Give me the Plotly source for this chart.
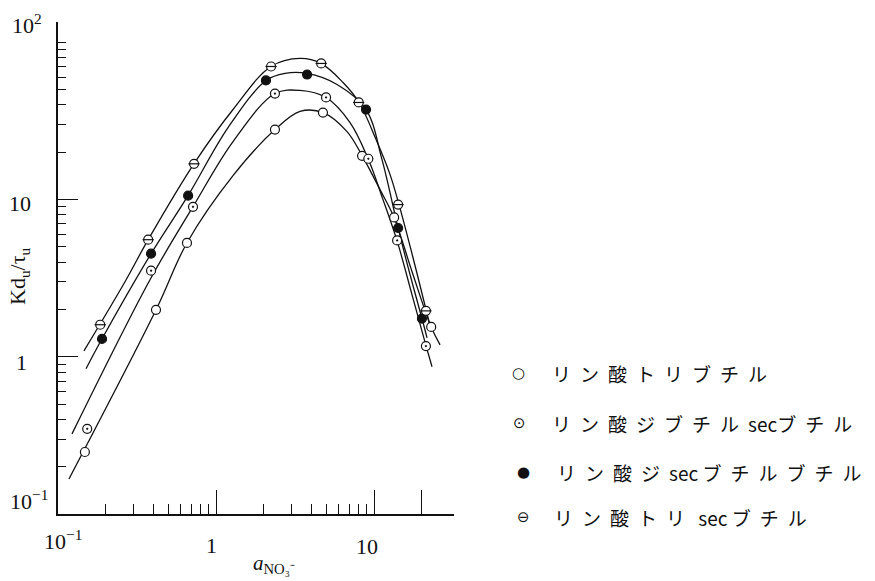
import plotly.graph_objects as go

# ---------------- data ----------------
# ○ リン酸トリブチル
tbp_x = [0.148, 0.417, 0.655, 2.36, 4.75, 8.4, 13.4, 23.0]
tbp_y = [0.248, 1.99, 5.3, 27.9, 35.8, 19.0, 7.7, 1.55]
tbp_curve_x = [0.1173, 0.4173, 0.6555, 1.281, 2.363, 3.401, 4.756, 6.748, 8.40, 10.91, 13.39, 17.40, 22.95, 26.17]
tbp_curve_y = [0.1671, 1.993, 5.32, 14.22, 27.9, 36.4, 35.8, 27.1, 19.07, 11.58, 7.68, 3.48, 1.553, 1.192]

# ⊙ リン酸ジブチルsecブチル
dbsb_x = [0.153, 0.388, 0.715, 2.36, 4.97, 9.2, 14.0, 21.3]
dbsb_y = [0.348, 3.53, 9.0, 47.3, 44.7, 18.2, 5.5, 1.17]
dbsb_curve_x = [0.1226, 0.3822, 0.715, 1.281, 2.363, 3.401, 4.969, 7.05, 9.16, 11.40, 13.98, 17.40, 21.33, 23.28]
dbsb_curve_y = [0.3233, 3.093, 9.02, 23.4, 47.3, 49.5, 44.6, 30.9, 18.24, 10.0, 5.48, 2.48, 1.175, 0.864]

# ● リン酸ジsecブチルブチル
dsbb_x = [0.19, 0.388, 0.666, 2.07, 3.77, 8.9, 14.2, 20.1]
dsbb_y = [1.30, 4.53, 10.6, 57.3, 62.5, 37.4, 6.6, 1.75]
dsbb_curve_x = [0.1504, 0.190, 0.388, 0.665, 1.191, 2.073, 2.734, 3.766, 5.833, 8.90, 11.23, 14.19, 16.90, 20.13, 21.64]
dsbb_curve_y = [0.839, 1.302, 4.53, 10.6, 28.7, 57.3, 63.5, 63.5, 54.0, 37.4, 17.98, 6.63, 3.33, 1.746, 1.321]

# ⊖ リン酸トリsecブチル
tsbp_x = [0.185, 0.372, 0.726, 2.23, 4.63, 8.0, 14.2, 21.3]
tsbp_y = [1.60, 5.56, 16.9, 70.3, 73.5, 41.5, 9.3, 1.96]
tsbp_curve_x = [0.146, 0.2655, 0.372, 0.726, 1.281, 2.229, 3.401, 4.618, 6.366, 8.04, 10.30, 12.63, 14.39, 17.65, 21.33, 22.95]
tsbp_curve_y = [1.092, 3.005, 5.56, 16.96, 37.43, 70.3, 79.1, 73.5, 55.6, 41.5, 24.1, 14.43, 9.29, 4.27, 1.993, 1.486]

legend_names = ["リン酸トリブチル", "リン酸ジブチルsecブチル", "リン酸ジsecブチルブチル", "リン酸トリ secブチル"]

x_major_ticks = [1, 10, 20]
x_minor_ticks = [0.2, 0.3, 0.4, 0.5, 0.6, 0.7, 0.8, 0.9, 2, 3, 4, 5, 6, 7, 8, 9]
y_major_ticks = [1, 10]
y_minor_ticks = [0.2, 0.3, 0.4, 0.5, 0.6, 0.7, 0.8, 0.9, 2, 3, 4, 5, 6, 7, 8, 9,
                 20, 30, 40, 50, 60, 70, 80, 90, 100]

# ---------------- figure ----------------
W, H = 875, 581
L, R, T, B = 58, 421, 22, 67
PW, PH = W - L - R, H - T - B

def px(x):
    return (x - L) / PW

def py(y):
    return (H - B - y) / PH

fig = go.Figure()

LINE = dict(color="#111111", width=1.3, shape="spline", smoothing=1.0)
for cx, cy in [(tbp_curve_x, tbp_curve_y), (dbsb_curve_x, dbsb_curve_y),
               (dsbb_curve_x, dsbb_curve_y), (tsbp_curve_x, tsbp_curve_y)]:
    fig.add_trace(go.Scatter(x=cx, y=cy, mode="lines", line=LINE,
                             showlegend=False, hoverinfo="skip"))

MS = 9
MLINE = dict(color="#111111", width=1.2)
fig.add_trace(go.Scatter(x=tbp_x, y=tbp_y, mode="markers", name=legend_names[0],
                         marker=dict(symbol="circle", size=MS, color="white", line=MLINE),
                         showlegend=False))
fig.add_trace(go.Scatter(x=dbsb_x, y=dbsb_y, mode="markers", name=legend_names[1],
                         marker=dict(symbol="circle-dot", size=MS, color="white", line=MLINE),
                         showlegend=False))
fig.add_trace(go.Scatter(x=dsbb_x, y=dsbb_y, mode="markers", name=legend_names[2],
                         marker=dict(symbol="circle", size=MS, color="#111111", line=MLINE),
                         showlegend=False))
fig.add_trace(go.Scatter(x=tsbp_x, y=tsbp_y, mode="markers", name=legend_names[3],
                         marker=dict(symbol="circle", size=MS, color="white", line=MLINE),
                         showlegend=False))
fig.add_trace(go.Scatter(x=tsbp_x, y=tsbp_y, mode="markers", name=legend_names[3],
                         marker=dict(symbol="line-ew", size=MS - 1, line=MLINE),
                         showlegend=False, hoverinfo="skip"))

axis_common = dict(type="log", showline=True, linecolor="#111111", linewidth=1.8,
                   ticks="inside", tickcolor="#111111", tickwidth=1.4,
                   showticklabels=False, showgrid=False, zeroline=False,
                   tickmode="array")

fig.update_xaxes(**axis_common, range=[-1, 1.506], tickvals=x_major_ticks, ticklen=24,
                 minor=dict(tickmode="array", tickvals=x_minor_ticks, ticks="inside",
                            ticklen=10, tickcolor="#111111", tickwidth=1.2, showgrid=False))
fig.update_yaxes(**axis_common, range=[-1, 2.13], tickvals=y_major_ticks, ticklen=20,
                 minor=dict(tickmode="array", tickvals=y_minor_ticks, ticks="inside",
                            ticklen=8, tickcolor="#111111", tickwidth=1.2, showgrid=False))

SERIF = "Liberation Serif"
ann = []

def label(text, x, y, size=22, xa="center", ya="middle", family=SERIF, **kw):
    ann.append(dict(text=text, x=px(x), y=py(y), xref="paper", yref="paper",
                    xanchor=xa, yanchor=ya, showarrow=False,
                    font=dict(family=family, size=size, color="#111111"), **kw))

# y tick labels
label("10<sup>2</sup>", 27, 24)
label("10", 20, 203)
label("1", 21, 362)
label("10<sup>−1</sup>", 29, 500)
# x tick labels
label("10<sup>−1</sup>", 63, 540)
label("1", 211, 545)
label("10", 367, 546)
# axis titles
label("<i>a</i><sub>NO₃⁻</sub>", 274, 564, size=21)
label("Kd<sub>u</sub>/τ<sub>u</sub>", 19, 276, size=22, textangle=-90)

# legend
JP = "Noto Sans CJK JP"
SP = '<span style="letter-spacing:9px">{}</span>'
legend_texts = [
    SP.format("リン酸トリブチル"),
    SP.format("リン酸ジブチル") + "sec" + SP.format("ブチル"),
    SP.format("リン酸ジ") + "sec " + SP.format("ブチルブチル"),
    SP.format("リン酸トリ") + " sec " + SP.format("ブチル"),
]
glyphs = ["○", "⊙", "●", "⊖"]
rows_y = [373, 423, 472, 517]
glyph_x = [518, 519, 523, 523]
text_x = [550, 550, 555, 552]
for g, t, yy, gx, tx in zip(glyphs, legend_texts, rows_y, glyph_x, text_x):
    label(g, gx, yy, size=15, family="DejaVu Sans")
    label(t, tx, yy, size=19, xa="left", family=JP)

fig.update_layout(width=W, height=H, margin=dict(l=L, r=R, t=T, b=B, pad=0),
                  paper_bgcolor="white", plot_bgcolor="white",
                  showlegend=False, annotations=ann)

fig.write_html("out.html", config={"displayModeBar": False},
               post_script="document.body.style.margin='0px';")
